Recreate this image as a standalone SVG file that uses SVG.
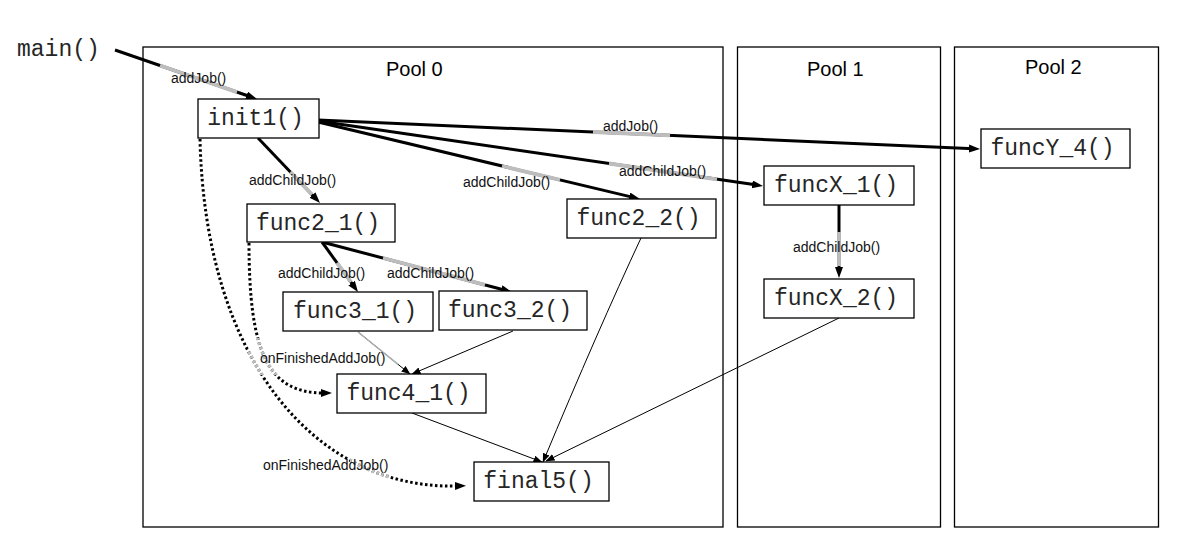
<svg xmlns="http://www.w3.org/2000/svg" width="1185" height="559" viewBox="0 0 1185 559">
  <style>
    .pool { fill: none; stroke: #000; stroke-width: 1.3; }
    .ptitle { font-family: "Liberation Sans", Arial, sans-serif; font-size: 20px; fill: #000; }
    .node rect { fill: #fff; stroke: #000; stroke-width: 1.3; }
    .node text { font-family: "Liberation Mono", "Courier New", monospace; font-size: 23px; fill: #262626; text-anchor: middle; }
    .thick { fill: none; stroke: #000; stroke-width: 3; marker-end: url(#ah); }
    .thin { fill: none; stroke: #000; stroke-width: 1; marker-end: url(#ahs); }
    .dot { fill: none; stroke: #000; stroke-width: 3; stroke-dasharray: 2.5 2.5; marker-end: url(#ahd); }
    .dotg { fill: none; stroke: #c0c0c0; stroke-width: 3.8; stroke-dasharray: 2.5 2.5; }
    .hl { fill: none; stroke: #bdbdbd; stroke-width: 3.8; }
    .hlthin { fill: none; stroke: #b0b0b0; stroke-width: 1.6; }
    .lbl { font-family: "Liberation Sans", Arial, sans-serif; font-size: 14px; fill: #111; }
  </style>
  <defs>
    <marker id="ah" markerUnits="userSpaceOnUse" markerWidth="12" markerHeight="10" refX="5" refY="4" orient="auto">
      <path d="M0,0 L11,4 L0,8 z" fill="#000"/>
    </marker>
    <marker id="ahs" markerUnits="userSpaceOnUse" markerWidth="10" markerHeight="8" refX="8.5" refY="3.5" orient="auto">
      <path d="M0,0 L9,3.5 L0,7 z" fill="#000"/>
    </marker>
    <marker id="ahd" markerUnits="userSpaceOnUse" markerWidth="12" markerHeight="10" refX="3" refY="4" orient="auto">
      <path d="M0,0 L11,4 L0,8 z" fill="#000"/>
    </marker>
    <clipPath id="clipLbl1"><rect x="248" y="338" width="50" height="37"/></clipPath>
    <clipPath id="clipLbl2"><rect x="350" y="444" width="40" height="36"/></clipPath>
  </defs>

  <!-- pools -->
  <g id="pools">
    <rect class="pool" x="143" y="47" width="580" height="480"/>
    <text class="ptitle" x="386" y="76">Pool 0</text>
    <rect class="pool" x="737.5" y="47" width="203" height="480"/>
    <text class="ptitle" x="807" y="76">Pool 1</text>
    <rect class="pool" x="954.5" y="47" width="204" height="480"/>
    <text class="ptitle" x="1025" y="74">Pool 2</text>
  </g>

  <!-- connectors -->
  <g id="connectors">
    <!-- job submissions -->
    <line class="thick" x1="115" y1="50" x2="251.3" y2="97"/>
    <line class="hl" x1="160" y1="65.5" x2="237" y2="92.1"/>

    <line class="thick" x1="318" y1="120" x2="974" y2="148.7"/>
    <line class="hl" x1="593" y1="132" x2="670" y2="135.4"/>

    <line class="thick" x1="318" y1="121" x2="757.1" y2="185.1"/>
    <line class="hl" x1="609" y1="163.5" x2="717" y2="179.3"/>

    <line class="thick" x1="318" y1="122" x2="634.2" y2="197.6"/>
    <line class="hl" x1="502" y1="166" x2="560" y2="179.9"/>

    <line class="thick" x1="258" y1="138" x2="315.9" y2="198.7"/>
    <line class="hl" x1="290.4" y1="172" x2="312" y2="194.5"/>

    <line class="thick" x1="322" y1="242" x2="354.5" y2="287.1"/>
    <line class="hl" x1="337" y1="262.8" x2="351" y2="282"/>

    <line class="thick" x1="322" y1="242" x2="506.2" y2="290.5"/>
    <line class="hl" x1="383" y1="258" x2="485" y2="284.9"/>

    <line class="thick" x1="839" y1="205" x2="839" y2="272"/>
    <line class="hl" x1="839" y1="232" x2="839" y2="266"/>

    <!-- completion dependencies -->
    <line class="thin" x1="358" y1="332" x2="410" y2="374"/>
    <line class="hlthin" x1="358" y1="332" x2="398" y2="364.3"/>
    <line class="thin" x1="513" y1="331" x2="412" y2="374"/>
    <line class="thin" x1="412" y1="413" x2="542" y2="462"/>
    <path class="thin" d="M641,238 Q598,330 543,462"/>
    <line class="thin" x1="839" y1="318" x2="546" y2="461"/>

    <!-- onFinishedAddJob -->
    <path class="dot" d="M200,139 C205,360 315,490 458,486"/>
    <path class="dot" d="M249,243 C249,353 268,393 324,393"/>
    <path class="dotg" clip-path="url(#clipLbl1)" d="M200,139 C205,360 315,490 458,486"/>
    <path class="dotg" clip-path="url(#clipLbl1)" d="M249,243 C249,353 268,393 324,393"/>
    <path class="dotg" clip-path="url(#clipLbl2)" d="M200,139 C205,360 315,490 458,486"/>
  </g>

  <!-- nodes -->
  <g id="main" class="node">
    <text x="17" y="56" style="text-anchor:start">main()</text>
  </g>
  <g id="init1" class="node">
    <rect x="198" y="99" width="121" height="39"/>
    <text x="255.5" y="125">init1()</text>
  </g>
  <g id="func2_1" class="node">
    <rect x="247" y="204" width="148" height="38"/>
    <text x="318" y="230">func2_1()</text>
  </g>
  <g id="func2_2" class="node">
    <rect x="567" y="199" width="149" height="39"/>
    <text x="638.5" y="225">func2_2()</text>
  </g>
  <g id="func3_1" class="node">
    <rect x="283" y="292" width="150" height="39"/>
    <text x="355" y="318">func3_1()</text>
  </g>
  <g id="func3_2" class="node">
    <rect x="439" y="291" width="148" height="39"/>
    <text x="510" y="317">func3_2()</text>
  </g>
  <g id="func4_1" class="node">
    <rect x="337" y="374" width="149" height="39"/>
    <text x="408.5" y="400">func4_1()</text>
  </g>
  <g id="final5" class="node">
    <rect x="474" y="462" width="135" height="39"/>
    <text x="538.5" y="488">final5()</text>
  </g>
  <g id="funcX_1" class="node">
    <rect x="764" y="166" width="150" height="39"/>
    <text x="836" y="192">funcX_1()</text>
  </g>
  <g id="funcX_2" class="node">
    <rect x="764" y="279" width="150" height="39"/>
    <text x="836" y="305">funcX_2()</text>
  </g>
  <g id="funcY_4" class="node">
    <rect x="981" y="129" width="149" height="39"/>
    <text x="1052.5" y="155">funcY_4()</text>
  </g>

  <!-- connector labels -->
  <g id="labels">
    <text class="lbl" x="171" y="83">addJob()</text>
    <text class="lbl" x="603" y="131">addJob()</text>
    <text class="lbl" x="619" y="176">addChildJob()</text>
    <text class="lbl" x="463" y="187">addChildJob()</text>
    <text class="lbl" x="249" y="185">addChildJob()</text>
    <text class="lbl" x="278" y="278">addChildJob()</text>
    <text class="lbl" x="387" y="278">addChildJob()</text>
    <text class="lbl" x="793" y="252">addChildJob()</text>
    <text class="lbl" x="260" y="363">onFinishedAddJob()</text>
    <text class="lbl" x="263" y="470">onFinishedAddJob()</text>
  </g>
</svg>
